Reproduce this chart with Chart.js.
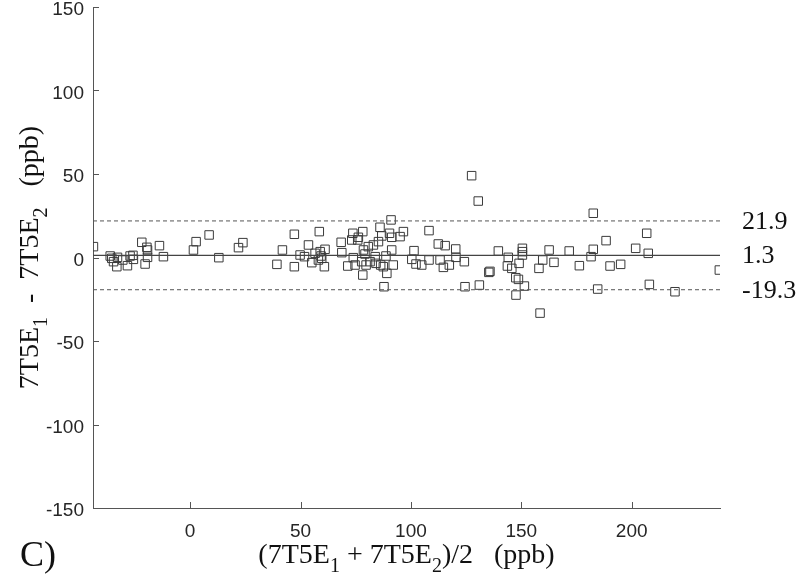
<!DOCTYPE html>
<html>
<head>
<meta charset="utf-8">
<script src="https://cdn.jsdelivr.net/npm/chart.js@4"></script>
<style>
  body { margin: 0; background: #fff; }
  #wrap { width: 800px; height: 586px; }
</style>
</head>
<body>
<div id="wrap"><canvas id="bland"></canvas></div>
<script>
// mean of the two measurements (ppb)
var xVals = [-43.8, -36.2, -35.5, -34.7, -33.2, -32.9, -30.5, -28.4, -27.2, -25.7, -25.9, -21.9, -19.6, -19.3, -19.3, -20.4, -13.9, -12.1,
  1.5, 2.7, 8.6, 13.0, 21.9, 23.9,
  39.3, 41.8, 47.2, 47.2, 49.8, 51.8, 53.6, 55.1, 56.6, 58.5, 58.9, 59.3, 58.1, 59.6, 60.8, 61.1,
  68.4, 68.7, 71.4, 73.7, 73.2, 73.9, 74.7, 76.2, 75.9, 78.2, 78.2, 77.7, 78.5, 79.2, 79.7, 80.7, 81.5, 83.0, 83.8, 84.2,
  85.3, 86.0, 86.3, 86.8, 87.5, 87.8, 88.7, 89.1, 90.3, 91.0, 91.3, 91.3, 92.0, 95.1, 96.6,
  100.4, 101.4, 102.3, 104.9, 108.2, 108.2, 112.4, 113.2, 115.5, 114.7, 117.4, 120.3, 120.4, 124.2, 124.5,
  127.5, 130.5, 131.0, 135.3, 135.8, 139.6, 144.1, 143.7, 145.7, 149.0, 147.5, 148.7, 147.6, 151.4, 150.5, 150.5, 150.5,
  158.0, 158.5, 159.7, 162.6, 164.8, 171.7, 176.3, 181.6, 182.6, 182.6, 184.6, 188.4, 190.2,
  195.0, 201.8, 206.8, 207.5, 208.0, 219.6, 239.7];
// difference of the two measurements (ppb)
var yVals = [6.5, 0.9, -0.5, -2.5, -5.5, 0.1, -1.5, -4.9, 0.9, -1.1, 1.3, 9.1, 6.1, 4.5, 0.1, -3.9, 7.1, 0.5,
  4.5, 9.5, 13.5, -0.1, 5.9, 8.9,
  -4.1, 4.5, 13.9, -5.5, 1.5, 0.5, 7.5, -3.1, 2.5, 15.5, 3.5, 0.9, -1.5, -0.5, -5.5, 4.9,
  9.1, 2.9, -5.1, 14.5, 10.5, -0.1, -4.5, 12.1, 10.5, 15.5, -10.5, -2.5, 4.5, 2.1, -4.5, 6.5, -2.5, 7.5, 0.5, -3.5,
  9.5, 18.1, -4.5, 12.9, -5.5, -17.5, 0.9, -9.5, 14.5, 22.5, 12.1, 4.5, -4.5, 12.5, 15.5,
  -1.1, 4.1, -3.9, -4.5, 16.1, -1.5, 8.1, -1.5, 7.1, -5.9, -4.5, 5.1, 0.1, -2.5, -17.5,
  49.0, 33.8, -16.5, -8.9, -8.3, 3.9, 0.1, -5.1, -6.5, -3.5, -12.1, -13.1, -22.5, -17.1, 5.5, 3.5, 1.5,
  -6.5, -33.3, -1.5, 4.5, -2.9, 3.9, -4.9, 0.5, 4.9, 26.5, -18.9, 10.1, -5.1,
  -4.1, 5.5, 14.5, 2.5, -16.1, -20.5, -7.5];

var xRange = [-44, 240];
var yRange = [-150, 150];
var xTicks = [0, 50, 100, 150, 200];
var yTicks = [-150, -100, -50, 0, 50, 100, 150];

// mean difference and limits of agreement
var refValues = [21.9, 1.3, -19.3];
var refLabels = ['21.9', '1.3', '-19.3'];
var refDashed = [true, false, true];

var points = xVals.map(function (x, i) { return {x: x, y: yVals[i]}; });

var datasets = refValues.map(function (v, i) {
    return {
        type: 'line',
        data: [{x: xRange[0], y: v}, {x: xRange[1], y: v}],
        borderColor: refDashed[i] ? '#555' : '#444',
        borderWidth: refDashed[i] ? 1 : 1.4,
        borderDash: refDashed[i] ? [4, 3] : [],
        pointRadius: 0
    };
});
datasets.push({
    type: 'scatter',
    data: points,
    pointStyle: 'rect',
    pointRadius: 6,
    pointHoverRadius: 6,
    borderColor: '#3a3a3a',
    borderWidth: 1,
    backgroundColor: 'rgba(0,0,0,0)'
});

function drawParts(ctx, parts, cx, cy, size) {
    var big = size + 'px "Liberation Serif"';
    var small = Math.round(size * 0.72) + 'px "Liberation Serif"';
    var total = 0;
    parts.forEach(function (p) {
        ctx.font = p[1] ? small : big;
        total += ctx.measureText(p[0]).width;
    });
    var px = cx - total / 2;
    parts.forEach(function (p) {
        ctx.font = p[1] ? small : big;
        ctx.fillText(p[0], px, cy + (p[1] ? size * 0.32 : 0));
        px += ctx.measureText(p[0]).width;
    });
}

var annotate = {
    id: 'annotate',
    afterDraw: function (chart) {
        var ctx = chart.ctx, a = chart.chartArea;
        var x = chart.scales.x, y = chart.scales.y;
        ctx.save();
        // inward tick marks, matlab style
        ctx.strokeStyle = '#555';
        ctx.lineWidth = 1;
        xTicks.forEach(function (v) {
            var px = Math.round(x.getPixelForValue(v)) + 0.5;
            ctx.beginPath(); ctx.moveTo(px, a.bottom); ctx.lineTo(px, a.bottom - 6); ctx.stroke();
        });
        yTicks.forEach(function (v) {
            var py = Math.round(y.getPixelForValue(v)) + 0.5;
            ctx.beginPath(); ctx.moveTo(a.left, py); ctx.lineTo(a.left + 6, py); ctx.stroke();
        });

        ctx.fillStyle = '#111';
        ctx.textBaseline = 'middle';
        ctx.textAlign = 'left';
        ctx.font = '26px "Liberation Serif"';
        refValues.forEach(function (v, i) {
            ctx.fillText(refLabels[i], a.right + 22, y.getPixelForValue(v) + 1);
        });

        // axis titles with subscripts
        ctx.textBaseline = 'alphabetic';
        drawParts(ctx, [['(7T5E', 0], ['1', 1], [' + 7T5E', 0], ['2', 1], [')/2   (ppb)', 0]],
            (a.left + a.right) / 2, 563, 28);

        ctx.save();
        ctx.translate(38, (a.top + a.bottom) / 2);
        ctx.rotate(-Math.PI / 2);
        drawParts(ctx, [['7T5E', 0], ['1', 1], ['  -  7T5E', 0], ['2', 1], ['   (ppb)', 0]], 0, 0, 28);
        ctx.restore();

        ctx.font = '36px "Liberation Serif"';
        ctx.fillText('C)', 20, 566);
        ctx.restore();
    }
};

var ctx = document.getElementById('bland').getContext('2d');
var chart = new Chart(ctx, {
    data: { datasets: datasets },
    options: {
        responsive: true,
        maintainAspectRatio: false,
        animation: false,
        layout: { padding: { top: 7, right: 80, left: 0, bottom: 0 } },
        plugins: { legend: { display: false }, tooltip: { enabled: false } },
        scales: {
            x: {
                type: 'linear',
                min: xRange[0],
                max: xRange[1],
                afterBuildTicks: function (s) { s.ticks = xTicks.map(function (v) { return {value: v}; }); },
                afterFit: function (s) { s.height = 78; s.paddingLeft = 0; s.paddingRight = 0; },
                grid: { drawOnChartArea: false, drawTicks: false, color: 'rgba(0,0,0,0)' },
                border: { display: true, color: '#555', width: 1 },
                ticks: { color: '#262626', padding: 12, font: { family: 'Liberation Sans', size: 19 } }
            },
            y: {
                type: 'linear',
                min: yRange[0],
                max: yRange[1],
                afterBuildTicks: function (s) { s.ticks = yTicks.map(function (v) { return {value: v}; }); },
                afterFit: function (s) { s.width = 93; s.paddingTop = 0; s.paddingBottom = 0; },
                grid: { drawOnChartArea: false, drawTicks: false, color: 'rgba(0,0,0,0)' },
                border: { display: true, color: '#555', width: 1 },
                ticks: { color: '#262626', padding: 9, labelOffset: 3, font: { family: 'Liberation Sans', size: 19 } }
            }
        }
    },
    plugins: [annotate]
});
</script>
</body>
</html>
